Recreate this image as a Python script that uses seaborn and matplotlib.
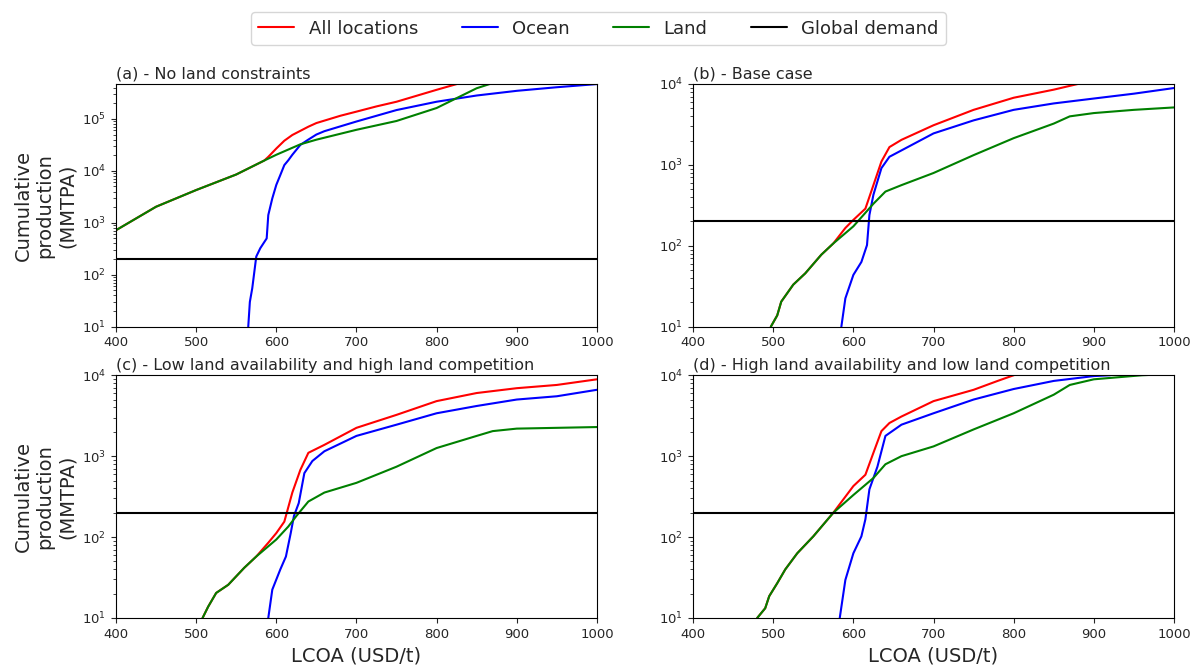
import numpy as np
import matplotlib
matplotlib.use("Agg")
import matplotlib.pyplot as plt
import seaborn as sns

# global demand line (MMTPA)
demand = 200

# (a) - No land constraints
a_all_x = [400, 450, 500, 550, 585, 590, 600, 610, 620, 630, 640, 650, 680, 700, 725, 750, 800, 825, 830]
a_all_y = [720, 2040, 4270, 8510, 15800, 18600, 26900, 38000, 49000, 58900, 70800, 83200, 115000, 138000,
           174000, 214000, 363000, 468000, 500000]
a_ocean_x = [565, 567, 570, 575, 580, 588, 590, 595, 600, 605, 610, 615, 620, 630, 640, 650, 660, 700, 750,
             800, 850, 900, 950, 1000]
a_ocean_y = [10, 30, 55, 224, 324, 501, 1410, 2950, 5370, 8300, 12900, 16000, 20400, 31600, 40000, 50000,
             58000, 89100, 148000, 214000, 282000, 347000, 407000, 468000]
a_land_x = [400, 450, 500, 550, 585, 600, 630, 650, 700, 750, 800, 825, 850, 870, 880]
a_land_y = [720, 2040, 4270, 8510, 15800, 20400, 32400, 39800, 61700, 91200, 162000, 251000, 389000, 490000, 560000]

# (b) - Base case
b_all_x = [497, 505, 510, 525, 540, 560, 575, 590, 600, 615, 625, 635, 645, 660, 700, 750, 800, 850, 880, 890]
b_all_y = [10, 13.8, 20.4, 33.1, 45.7, 77.6, 107, 166, 209, 288, 562, 1100, 1660, 2040, 3090, 4790, 6760, 8510,
           10000, 11000]
b_ocean_x = [585, 590, 600, 610, 617, 620, 625, 635, 645, 660, 700, 750, 800, 850, 900, 950, 1000]
b_ocean_y = [10, 22.4, 43.7, 63.1, 102, 240, 427, 912, 1260, 1510, 2450, 3550, 4790, 5750, 6610, 7590, 8910]
b_land_x = [497, 505, 510, 525, 540, 560, 575, 600, 625, 640, 660, 700, 750, 800, 850, 870, 900, 950, 1000]
b_land_y = [10, 13.8, 20.4, 33.1, 45.7, 77.6, 107, 174, 331, 468, 562, 794, 1320, 2140, 3240, 3980, 4370, 4790, 5130]

# (c) - Low land availability and high land competition
c_all_x = [508, 515, 525, 540, 560, 575, 590, 600, 610, 620, 630, 640, 660, 700, 750, 800, 850, 900, 950, 1000]
c_all_y = [10, 13.8, 20.4, 25.7, 41.7, 57.5, 85.1, 112, 155, 355, 676, 1100, 1380, 2240, 3240, 4790, 6030, 6920,
           7590, 8910]
c_ocean_x = [590, 595, 605, 612, 618, 622, 628, 635, 645, 660, 700, 750, 800, 850, 900, 950, 1000]
c_ocean_y = [10, 22.4, 39.8, 57.5, 112, 182, 263, 617, 871, 1150, 1780, 2450, 3390, 4170, 5010, 5500, 6610]
c_land_x = [508, 515, 525, 540, 560, 575, 600, 615, 625, 640, 660, 700, 750, 800, 850, 870, 900, 1000]
c_land_y = [10, 13.8, 20.4, 25.7, 41.7, 57.5, 93.3, 135, 182, 275, 355, 468, 741, 1260, 1780, 2040, 2190, 2290]

# (d) - High land availability and low land competition
d_all_x = [480, 490, 495, 505, 515, 530, 550, 575, 600, 615, 625, 635, 645, 660, 700, 750, 780, 800, 810]
d_all_y = [10, 13.2, 18.6, 26.9, 39.8, 63.1, 102, 200, 427, 589, 1100, 2040, 2570, 3090, 4790, 6610, 8510,
           10000, 11000]
d_ocean_x = [583, 590, 600, 610, 615, 620, 630, 640, 660, 700, 750, 800, 850, 900, 920, 930]
d_ocean_y = [10, 29.5, 63.1, 102, 166, 389, 741, 1780, 2450, 3390, 5010, 6760, 8510, 9770, 10000, 10500]
d_land_x = [480, 490, 495, 505, 515, 530, 550, 575, 600, 625, 640, 660, 700, 750, 800, 850, 870, 900, 960, 980]
d_land_y = [10, 13.2, 18.6, 26.9, 39.8, 63.1, 102, 200, 331, 537, 794, 1000, 1320, 2140, 3390, 5750, 7590,
            8910, 10000, 10200]

titles = ["(a) - No land constraints", "(b) - Base case",
          "(c) - Low land availability and high land competition",
          "(d) - High land availability and low land competition"]
ytops = [4.7e5, 1e4, 1e4, 1e4]

panels = [
    (a_all_x, a_all_y, a_ocean_x, a_ocean_y, a_land_x, a_land_y),
    (b_all_x, b_all_y, b_ocean_x, b_ocean_y, b_land_x, b_land_y),
    (c_all_x, c_all_y, c_ocean_x, c_ocean_y, c_land_x, c_land_y),
    (d_all_x, d_all_y, d_ocean_x, d_ocean_y, d_land_x, d_land_y),
]

sns.set_style("ticks")
plt.rcParams["font.family"] = ["DejaVu Sans"]

fig, axes = plt.subplots(2, 2, figsize=(11.91, 6.66), dpi=100)
fig.subplots_adjust(left=0.0974, right=0.9857, top=0.8739, bottom=0.0721, wspace=0.2, hspace=0.2)

for i, ax in enumerate(axes.flat):
    ax_x, ax_y, oc_x, oc_y, la_x, la_y = panels[i]
    sns.lineplot(x=ax_x, y=ax_y, color="red", lw=1.5, ax=ax, label="All locations")
    sns.lineplot(x=oc_x, y=oc_y, color="blue", lw=1.5, ax=ax, label="Ocean")
    sns.lineplot(x=la_x, y=la_y, color="green", lw=1.5, ax=ax, label="Land")
    ax.axhline(demand, color="black", lw=1.5, label="Global demand")
    ax.set_yscale("log")
    ax.set_xlim(400, 1000)
    ax.set_ylim(10, ytops[i])
    ax.set_xticks([400, 500, 600, 700, 800, 900, 1000])
    ax.tick_params(labelsize=9.5)
    ax.tick_params(axis="y", which="minor", length=2.5)
    ax.set_title(titles[i], loc="left", fontsize=11.5, pad=4)
    ax.get_legend().remove()
    for s in ax.spines.values():
        s.set_color("black")

for ax in axes[:, 0]:
    ax.set_ylabel("Cumulative\nproduction\n(MMTPA)", fontsize=14)
for ax in axes[1, :]:
    ax.set_xlabel("LCOA (USD/t)", fontsize=14)

handles, labels = axes[0, 0].get_legend_handles_labels()
fig.legend(handles, labels, loc="upper center", ncol=4, bbox_to_anchor=(0.5025, 0.995),
           fontsize=13, columnspacing=2.4, handlelength=2.0)

fig.savefig("out.png", dpi=100)
